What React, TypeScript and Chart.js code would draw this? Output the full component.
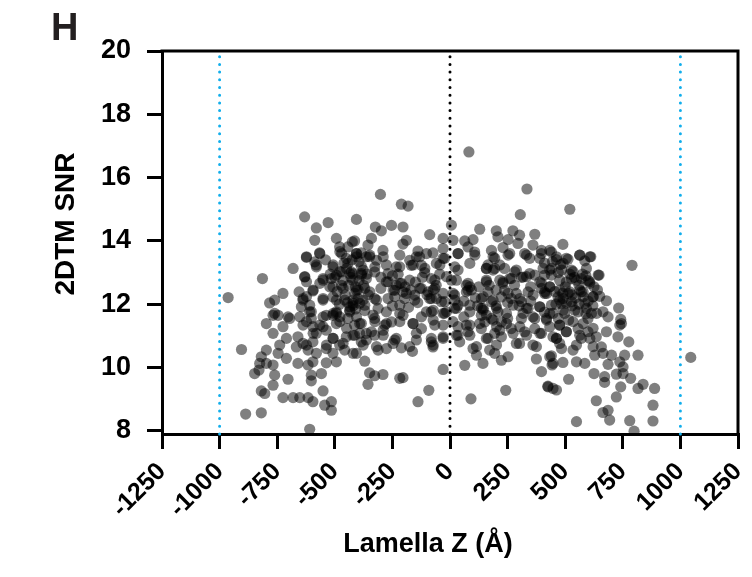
import React, { useEffect, useRef } from "react";
import { Chart, registerables } from "chart.js";

Chart.register(...registerables);

const FONT = "'Liberation Sans', Arial, Helvetica, sans-serif";

// Axis definitions
const xMin = -1250;
const xMax = 1250;
const yMin = 7.9;
const yMax = 20;
const xTickValues = [-1250, -1000, -750, -500, -250, 0, 250, 500, 750, 1000, 1250];
const yTickValues = [8, 10, 12, 14, 16, 18, 20];
const blueRefLines = [-1000, 1000];
const centerRefLines = [0];

const panelLabel = "H";
const xTitle = "Lamella Z (Å)";
const yTitle = "2DTM SNR";

// Data: [Lamella Z (Å), 2DTM SNR]
const outerLeftUpper: [number, number][] = [
  [-631, 14.76], [-580, 14.41], [-529, 14.58], [-406, 14.68], [-587, 14.02], [-493, 14.08], [-479, 13.81],
  [-424, 13.97], [-443, 13.81], [-406, 13.6], [-566, 13.62], [-623, 13.48], [-587, 13.34], [-580, 13.18],
  [-681, 13.13], [-508, 13.18], [-443, 13.29], [-471, 13.02], [-428, 13.02], [-814, 12.81], [-631, 12.86],
  [-623, 12.71], [-551, 12.76], [-515, 12.81], [-508, 12.55], [-471, 12.6], [-421, 12.76], [-406, 12.44],
  [-725, 12.34], [-655, 12.39], [-595, 12.42], [-963, 12.21], [-761, 12.13], [-783, 12.04], [-638, 12.18],
  [-645, 11.92], [-551, 12.18], [-508, 12.23], [-457, 12.13], [-421, 12.13], [-761, 11.71], [-703, 11.6],
  [-602, 11.76], [-537, 11.65], [-493, 11.71], [-435, 11.81],
];

const outerLeftLower: [number, number][] = [
  [-905, 10.57], [-797, 10.55], [-819, 10.34], [-826, 10.13], [-848, 9.81], [-829, 9.92], [-797, 10.13],
  [-768, 10.08], [-761, 9.76], [-768, 9.44], [-819, 9.26], [-804, 9.18], [-703, 9.63], [-725, 9.05],
  [-681, 9.05], [-652, 9.05], [-616, 9.05], [-595, 8.92], [-551, 9.26], [-558, 9.81], [-602, 9.76],
  [-602, 9.58], [-544, 8.81], [-515, 8.92], [-515, 8.65], [-887, 8.53], [-819, 8.57], [-609, 8.05],
  [-797, 11.39], [-768, 11.65], [-746, 11.65], [-696, 11.55], [-768, 11.08], [-725, 11.29], [-710, 10.92],
  [-739, 10.71], [-746, 10.45], [-710, 10.29], [-660, 10.97], [-667, 10.65], [-638, 10.76], [-616, 10.55],
  [-660, 10.13], [-616, 10.08], [-595, 10.18], [-580, 10.45], [-595, 10.81], [-580, 11.08], [-595, 11.29],
  [-638, 11.34], [-652, 11.6], [-602, 11.55], [-551, 11.6], [-508, 11.65], [-493, 11.39], [-537, 11.18],
  [-508, 10.92], [-537, 10.6], [-508, 10.45], [-479, 10.71], [-493, 10.18], [-537, 10.15], [-457, 10.55],
  [-421, 10.45], [-414, 11.02], [-450, 10.97], [-414, 11.34], [-443, 11.55], [-406, 11.6],
];

const centerUpper: [number, number][] = [
  [82, 16.81], [-302, 15.47], [334, 15.64], [-211, 15.16], [-182, 15.1], [305, 14.83], [-324, 14.44],
  [-298, 14.32], [-254, 14.49], [-204, 14.44], [6, 14.5], [-88, 14.2], [129, 14.37], [201, 14.32],
  [273, 14.32], [302, 14.18], [368, 14.21], [208, 14.13], [252, 14.04], [-414, 14.0], [-341, 14.08],
  [-356, 13.87], [-189, 14.02], [-204, 13.9], [-30, 14.08], [13, 14.02], [64, 14.0], [100, 14.04],
  [78, 13.81], [107, 13.65], [-30, 13.76], [35, 13.6], [-139, 13.68], [-74, 13.62], [-291, 13.7],
  [-385, 13.62], [180, 13.7], [230, 13.79], [295, 13.92], [360, 13.87], [324, 13.6], [397, 13.7],
  [440, 13.65], [389, 13.45], [252, 13.55], [194, 13.45], [158, 13.13], [194, 13.13], [237, 13.13],
  [281, 13.02], [317, 12.86], [368, 12.92], [404, 13.13], [440, 12.92], [-132, 13.5], [-124, 13.23],
  [-168, 13.23], [-233, 13.18], [-269, 12.97], [-327, 13.02], [-349, 13.5], [-406, 13.5], [-23, 13.45],
  [-59, 13.29], [35, 13.08], [78, 12.66], [6, 12.76], [-66, 12.76], [-211, 12.66], [-269, 12.71],
  [-385, 12.97], [158, 12.71], [230, 12.66], [266, 12.81], [397, 12.66],
];

const centerLower: [number, number][] = [
  [-139, 8.92], [-92, 9.28], [91, 9.01], [242, 9.28], [-30, 9.94], [64, 10.07], [143, 10.13], [223, 10.23],
  [252, 10.34], [375, 10.27], [433, 10.34], [443, 10.08], [397, 9.87], [425, 9.39], [447, 9.34],
  [-356, 9.47], [-327, 9.74], [-349, 9.83], [-291, 9.78], [-218, 9.66], [-204, 9.68], [-370, 10.2],
  [-406, 10.45], [-312, 10.55], [-276, 10.6], [-211, 10.62], [-163, 10.51], [-240, 10.87], [-385, 10.81],
  [-327, 11.02], [-81, 10.81], [-74, 10.65], [-30, 10.92], [35, 11.02], [42, 10.81], [100, 10.6],
  [115, 10.39], [172, 10.55], [194, 10.45], [302, 10.76], [360, 10.71], [165, 10.92], [223, 10.97],
  [397, 11.08], [447, 10.97], [-283, 11.34], [-341, 11.13], [-392, 11.08], [-161, 11.39], [-124, 11.23],
  [-66, 11.34], [35, 11.29], [78, 11.13], [136, 11.23], [194, 11.08], [266, 11.23], [324, 11.13],
  [368, 11.23], [418, 11.55], [360, 11.6], [339, 11.87], [389, 11.92], [310, 12.08], [266, 12.18],
  [223, 12.23], [180, 12.08], [136, 11.87], [86, 11.97], [20, 11.87], [-23, 11.71], [-81, 11.76],
  [-124, 11.6], [-204, 11.65], [-254, 11.44], [-327, 11.55], [-385, 11.39], [-312, 11.87], [-370, 11.97],
  [-399, 12.18], [-327, 12.18], [-269, 12.18], [-197, 12.18], [-153, 12.29], [-81, 12.18], [-23, 12.08],
  [20, 12.29], [78, 12.44], [136, 12.18], [165, 12.39], [237, 12.44], [339, 12.39], [411, 12.39],
  [-240, 12.44], [-124, 12.5], [-370, 12.5], [-66, 12.5], [136, 11.65], [180, 11.55], [223, 11.44],
  [310, 11.55], [245, 11.71], [208, 11.76], [151, 11.44],
];

const rightSide: [number, number][] = [
  [520, 15.0], [790, 13.23], [490, 13.89], [433, 13.7], [462, 13.41], [512, 13.42], [563, 13.55],
  [611, 13.5], [585, 13.37], [527, 13.08], [484, 13.08], [440, 13.13], [647, 12.92], [606, 12.71],
  [570, 12.81], [527, 12.81], [476, 12.76], [433, 12.55], [411, 12.92], [621, 12.23], [570, 12.39],
  [512, 12.34], [469, 12.23], [679, 12.11], [585, 12.02], [527, 12.08], [484, 12.02], [440, 11.97],
  [732, 11.88], [664, 11.76], [614, 11.71], [556, 11.76], [498, 11.71], [447, 11.71], [741, 11.52],
  [686, 11.6], [1045, 10.32], [744, 11.39], [599, 11.55], [476, 11.34], [556, 11.23], [599, 11.13],
  [679, 11.13], [737, 11.34], [729, 10.97], [776, 10.81], [635, 10.97], [570, 10.92], [505, 11.13],
  [462, 10.92], [484, 10.6], [534, 10.55], [440, 10.37], [447, 10.13], [490, 10.16], [549, 10.18],
  [585, 10.13], [628, 10.39], [657, 10.65], [664, 10.45], [701, 10.39], [758, 10.39], [816, 10.39],
  [686, 10.1], [737, 10.18], [751, 10.02], [722, 9.79], [751, 9.81], [625, 9.81], [671, 9.71],
  [671, 9.53], [784, 9.66], [515, 9.63], [425, 9.41], [462, 9.29], [741, 9.39], [816, 9.34],
  [838, 9.47], [888, 9.34], [722, 9.07], [635, 8.95], [881, 8.81], [686, 8.65], [664, 8.58],
  [693, 8.34], [549, 8.29], [780, 8.32], [881, 8.31], [799, 7.99],
];

const coreLeft: [number, number][] = [
  [-623, 13.5], [-565, 13.6], [-478, 13.66], [-406, 13.6], [-348, 13.55], [-290, 13.5], [-218, 13.55],
  [-146, 13.5], [-102, 13.6], [-30, 13.45], [-580, 13.24], [-507, 13.24], [-449, 13.13], [-377, 13.08],
  [-326, 13.18], [-276, 13.24], [-218, 13.18], [-160, 13.24], [-109, 13.13], [-44, 13.24], [-630, 12.87],
  [-551, 12.81], [-493, 12.92], [-421, 12.97], [-363, 12.81], [-276, 12.71], [-218, 12.66], [-175, 12.76],
  [-81, 12.81], [-15, 12.87], [-594, 12.45], [-522, 12.55], [-464, 12.5], [-399, 12.45], [-348, 12.39],
  [-247, 12.45], [-189, 12.34], [-131, 12.5], [-73, 12.45], [-30, 12.34], [-638, 12.13], [-551, 12.13],
  [-493, 12.13], [-421, 12.03], [-377, 12.13], [-319, 12.13], [-218, 11.97], [-153, 12.13], [-88, 12.18],
  [-37, 12.08], [-609, 11.76], [-507, 11.71], [-435, 11.76], [-334, 11.66], [-276, 11.76], [-218, 11.71],
  [-102, 11.76], [-15, 11.76], [-623, 11.45], [-565, 11.34], [-478, 11.45], [-392, 11.39], [-326, 11.45],
  [-276, 11.39], [-218, 11.45], [-160, 11.39], [-73, 11.5], [-30, 11.34], [-594, 11.08], [-507, 10.92],
  [-421, 11.02], [-363, 11.08], [-290, 11.02], [-233, 10.92], [-146, 11.08], [-81, 10.92], [-30, 10.97],
  [-623, 10.71], [-536, 10.71], [-464, 10.76], [-377, 10.71], [-319, 10.66], [-247, 10.76], [-175, 10.66],
  [-73, 10.71],
];

const coreLeftDense: [number, number][] = [
  [-478, 13.03], [-435, 12.97], [-384, 12.92], [-413, 12.34], [-392, 12.03], [-435, 11.92], [-233, 12.6],
  [-204, 12.39], [-240, 12.24], [-493, 11.76], [-478, 11.6], [-95, 12.39], [-59, 12.18], [-623, 12.24],
  [-609, 11.97], [-73, 11.81], [-30, 11.71], [-565, 12.66], [-319, 13.39], [-363, 13.5], [-175, 13.39],
  [-551, 11.29], [-449, 11.24], [-290, 11.18], [-146, 10.87], [-363, 10.87], [-450, 13.45], [-470, 13.6],
  [-430, 12.85], [-455, 12.3], [-480, 12.0], [-420, 11.95], [-395, 12.75], [-385, 13.2],
  [-500, 12.85], [-465, 12.75], [-440, 12.6], [-410, 12.55], [-375, 12.6], [-360, 12.95], [-395, 13.35],
  [-425, 13.4], [-460, 13.3], [-490, 12.4], [-445, 12.05], [-410, 11.85], [-370, 11.8], [-355, 12.3],
  [-520, 12.95], [-540, 13.4], [-250, 12.9], [-225, 12.95], [-195, 12.55], [-170, 12.45], [-150, 12.7],
  [-120, 12.85], [-100, 12.3], [-60, 12.6], [-45, 12.95], [-140, 12.05], [-180, 11.9], [-250, 11.95],
  [-300, 12.5], [-300, 12.85], [-110, 13.0],
];

const coreRight: [number, number][] = [
  [35, 13.6], [108, 13.55], [187, 13.5], [259, 13.6], [332, 13.55], [397, 13.6], [462, 13.5], [505, 13.45],
  [563, 13.55], [607, 13.5], [21, 13.18], [86, 13.29], [158, 13.13], [216, 13.24], [288, 13.08],
  [346, 12.97], [433, 13.08], [491, 13.29], [534, 13.03], [592, 13.13], [643, 12.92], [28, 12.76],
  [86, 12.55], [158, 12.76], [216, 12.76], [259, 12.81], [332, 12.87], [390, 12.71], [433, 12.55],
  [476, 12.45], [549, 12.76], [607, 12.66], [13, 12.34], [71, 12.39], [144, 12.24], [187, 12.13],
  [252, 12.34], [303, 12.18], [361, 12.29], [419, 12.34], [476, 12.13], [520, 12.39], [578, 12.39],
  [621, 12.24], [28, 11.87], [86, 11.76], [144, 11.81], [202, 11.87], [274, 11.97], [332, 11.87],
  [390, 11.92], [433, 11.71], [491, 11.81], [542, 11.81], [592, 11.87], [636, 11.71], [13, 11.45],
  [71, 11.34], [129, 11.39], [187, 11.5], [245, 11.39], [303, 11.29], [368, 11.55], [419, 11.5],
  [476, 11.34], [534, 11.45], [578, 11.39], [621, 11.24], [28, 11.02], [86, 11.02], [158, 10.92],
  [216, 11.18], [274, 11.08], [332, 11.02], [390, 11.08], [462, 10.92], [505, 11.13], [563, 11.02],
  [607, 10.92], [115, 10.66], [202, 10.71], [288, 10.76], [375, 10.66], [476, 10.76], [549, 10.71],
  [621, 10.66],
];

const coreRightDense: [number, number][] = [
  [165, 13.24], [187, 13.08], [71, 12.6], [93, 12.45], [144, 11.87], [158, 11.66], [397, 12.5],
  [411, 12.34], [491, 12.18], [505, 12.03], [563, 12.45], [578, 12.24], [21, 12.13], [35, 11.97],
  [230, 12.71], [346, 13.45], [288, 12.34], [317, 11.71], [86, 11.34], [433, 11.29], [202, 11.29],
  [480, 13.25], [520, 12.95], [560, 12.6], [590, 12.9], [545, 12.2], [500, 12.55], [460, 12.0],
  [530, 11.95], [600, 12.1], [640, 12.45], [620, 11.95],
  [410, 13.3], [445, 13.35], [470, 13.0], [505, 12.7], [540, 12.85], [575, 12.95], [600, 12.75],
  [455, 12.4], [490, 12.35], [530, 12.3], [560, 12.0], [590, 11.7], [470, 11.55], [515, 11.5],
  [410, 11.75], [625, 12.55], [650, 12.25], [110, 12.2], [125, 12.55], [170, 12.6], [200, 12.45],
  [250, 12.05], [280, 12.6], [310, 12.85], [350, 12.55], [200, 11.95], [120, 11.95], [60, 12.1],
  [60, 11.6], [250, 11.55], [300, 11.95], [350, 12.1],
];

const pointGroups = [
  outerLeftUpper, outerLeftLower, centerUpper, centerLower, rightSide,
  coreLeft, coreLeftDense, coreRight, coreRightDense,
];

const framePlugin = {
  id: "frameAndText",
  afterDraw(chart: any) {
    const { ctx, chartArea } = chart;
    ctx.save();
    ctx.strokeStyle = "#000";
    ctx.lineWidth = 3;
    ctx.lineCap = "square";
    ctx.beginPath();
    ctx.moveTo(chartArea.left, chartArea.top);
    ctx.lineTo(chartArea.right, chartArea.top);
    ctx.lineTo(chartArea.right, chartArea.bottom);
    ctx.stroke();

    // panel letter
    ctx.fillStyle = "#231f20";
    ctx.font = `bold 38px ${FONT}`;
    ctx.textAlign = "left";
    ctx.textBaseline = "alphabetic";
    ctx.fillText(panelLabel, 51, 40);

    // x title
    ctx.fillStyle = "#000";
    ctx.font = `bold 27px ${FONT}`;
    ctx.textAlign = "center";
    ctx.fillText(xTitle, 428, 552);

    // y title
    ctx.translate(74, 224);
    ctx.rotate(-Math.PI / 2);
    ctx.font = `bold 28px ${FONT}`;
    ctx.textAlign = "center";
    ctx.textBaseline = "alphabetic";
    ctx.fillText(yTitle, 0, 0);
    ctx.restore();
  },
};

export default function App() {
  const canvasRef = useRef<HTMLCanvasElement>(null);

  useEffect(() => {
    const canvas = canvasRef.current;
    if (!canvas) return;

    const scatterData = pointGroups.flat().map(([x, y]) => ({ x, y }));
    const refLine = (v: number, color: string) => ({
      data: [
        { x: v, y: yMin },
        { x: v, y: yMax },
      ],
      showLine: true,
      borderColor: color,
      backgroundColor: color,
      borderWidth: 3,
      borderDash: [0, 7.7],
      borderCapStyle: "round",
      pointRadius: 0,
      pointHoverRadius: 0,
      clip: 4,
    });

    const yTickFont = { family: FONT, size: 27, weight: "bold" as const };
    const xTickFont = { family: FONT, size: 25, weight: "bold" as const };

    const chart = new Chart(canvas, {
      type: "scatter",
      data: {
        datasets: [
          ...centerRefLines.map((v) => refLine(v, "#000000")),
          ...blueRefLines.map((v) => refLine(v, "#12aeec")),
          {
            data: scatterData,
            backgroundColor: "rgba(0,0,0,0.5)",
            borderWidth: 0,
            pointRadius: 5.6,
            pointHoverRadius: 5.6,
          },
        ] as any,
      },
      options: {
        animation: false,
        responsive: false,
        devicePixelRatio: 1,
        events: [],
        layout: { padding: { top: 51, right: 14, left: 0, bottom: 0 } },
        plugins: {
          legend: { display: false },
          tooltip: { enabled: false },
          title: { display: false },
        },
        scales: {
          x: {
            type: "linear",
            min: xMin,
            max: xMax,
            afterBuildTicks: (s: any) => {
              s.ticks = xTickValues.map((v) => ({ value: v }));
            },
            afterFit: (s: any) => {
              s.height = 143;
              s.paddingLeft = 0;
              s.paddingRight = 0;
            },
            ticks: {
              autoSkip: false,
              minRotation: 45,
              maxRotation: 45,
              font: xTickFont,
              color: "#000",
              padding: 8,
              callback: (v: any) => String(v),
            },
            grid: {
              drawOnChartArea: false,
              drawTicks: true,
              tickLength: 15,
              lineWidth: 3,
              color: "#000",
            },
            border: { display: true, width: 3, color: "#000" },
          },
          y: {
            type: "linear",
            min: yMin,
            max: yMax,
            afterBuildTicks: (s: any) => {
              s.ticks = yTickValues.map((v) => ({ value: v }));
            },
            afterFit: (s: any) => {
              s.width = 162;
              s.paddingTop = 0;
              s.paddingBottom = 0;
            },
            ticks: {
              font: yTickFont,
              color: "#000",
              padding: 16,
              callback: (v: any) => String(v),
            },
            grid: {
              drawOnChartArea: false,
              drawTicks: true,
              tickLength: 15,
              lineWidth: 3,
              color: "#000",
            },
            border: { display: true, width: 3, color: "#000" },
          },
        },
      },
      plugins: [framePlugin],
    });

    return () => chart.destroy();
  }, []);

  return (
    <div style={{ position: "absolute", left: 0, top: 0, width: 752, height: 577, background: "#fff" }}>
      <canvas ref={canvasRef} width={752} height={577} style={{ display: "block" }} />
    </div>
  );
}
